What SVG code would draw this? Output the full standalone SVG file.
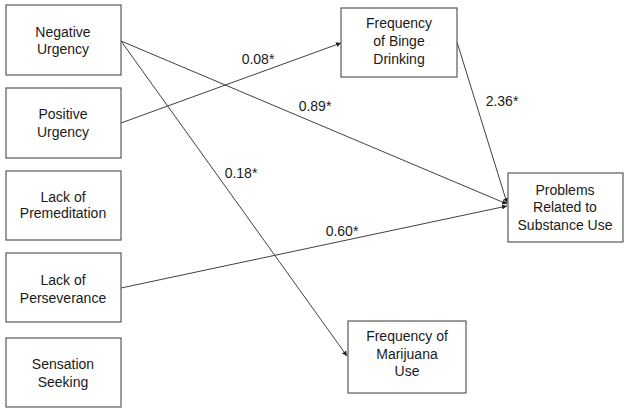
<svg xmlns="http://www.w3.org/2000/svg" width="629" height="414" viewBox="0 0 629 414">
<style>
.box{fill:#fff;stroke:#595959;stroke-width:1.2}
.t{font-family:"Liberation Sans",Arial,sans-serif;font-size:14px;fill:#1a1a1a;text-anchor:middle}
.lbl{font-family:"Liberation Sans",Arial,sans-serif;font-size:14px;fill:#1a1a1a;text-anchor:middle}
.c{stroke:#404040;stroke-width:1;fill:none;marker-end:url(#ah)}
</style>
<defs>
<marker id="ah" viewBox="0 0 10 10" refX="10" refY="5" markerWidth="5" markerHeight="5" orient="auto" markerUnits="userSpaceOnUse">
<path d="M0,0 L10,5 L0,10 z" fill="#222"/>
</marker>
</defs>
<rect width="629" height="414" fill="#fff"/>
<g id="connectors">
<line class="c" x1="121" y1="41" x2="347" y2="356"/>
<line class="c" x1="121" y1="41" x2="507" y2="204"/>
<line class="c" x1="121" y1="123" x2="341" y2="43"/>
<line class="c" x1="457" y1="42" x2="507" y2="203"/>
<line class="c" x1="121" y1="288" x2="507" y2="206"/>
</g>
<g id="labels">
<text class="lbl" x="258" y="64">0.08*</text>
<text class="lbl" x="315" y="111">0.89*</text>
<text class="lbl" x="241" y="178">0.18*</text>
<text class="lbl" x="502" y="106">2.36*</text>
<text class="lbl" x="342" y="236">0.60*</text>
</g>
<g id="negative-urgency">
<rect class="box" x="6" y="5" width="115" height="70"/>
<text class="t" x="63" y="37">Negative</text>
<text class="t" x="63" y="54">Urgency</text>
</g>
<g id="positive-urgency">
<rect class="box" x="6" y="88" width="115" height="70"/>
<text class="t" x="63" y="119">Positive</text>
<text class="t" x="63" y="137">Urgency</text>
</g>
<g id="lack-of-premeditation">
<rect class="box" x="6" y="171" width="115" height="69"/>
<text class="t" x="63" y="202">Lack of</text>
<text class="t" x="63" y="218">Premeditation</text>
</g>
<g id="lack-of-perseverance">
<rect class="box" x="6" y="253" width="115" height="69"/>
<text class="t" x="63" y="285">Lack of</text>
<text class="t" x="63" y="303">Perseverance</text>
</g>
<g id="sensation-seeking">
<rect class="box" x="6" y="338" width="115" height="69"/>
<text class="t" x="63" y="369">Sensation</text>
<text class="t" x="63" y="387">Seeking</text>
</g>
<g id="binge-drinking">
<rect class="box" x="341" y="8" width="116" height="69"/>
<text class="t" x="399" y="28">Frequency</text>
<text class="t" x="399" y="46">of Binge</text>
<text class="t" x="399" y="64">Drinking</text>
</g>
<g id="problems">
<rect class="box" x="508" y="173" width="115" height="69"/>
<text class="t" x="565" y="195">Problems</text>
<text class="t" x="565" y="212">Related to</text>
<text class="t" x="565" y="230">Substance Use</text>
</g>
<g id="marijuana">
<rect class="box" x="348" y="321" width="118" height="72"/>
<text class="t" x="407" y="341">Frequency of</text>
<text class="t" x="407" y="359">Marijuana</text>
<text class="t" x="407" y="376">Use</text>
</g>
</svg>
